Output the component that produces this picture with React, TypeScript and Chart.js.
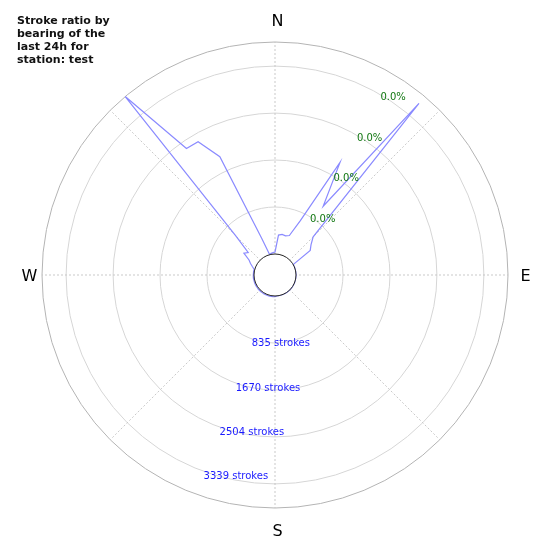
import { useRef, useEffect } from "react";
import { Chart, registerables } from "chart.js";

Chart.register(...registerables);

// bearing bins (degrees, clockwise from north)
const bearings = [
  0, 5, 10, 15, 20, 25, 30, 35, 40, 45, 50, 55, 60, 65, 70, 75, 80, 85,
  90, 95, 100, 105, 110, 115, 120, 125, 130, 135, 140, 145, 150, 155, 160, 165, 170, 175,
  180, 185, 190, 195, 200, 205, 210, 215, 220, 225, 230, 235, 240, 245, 250, 255, 260, 265,
  270, 275, 280, 285, 290, 295, 300, 305, 310, 315, 320, 325, 330, 335, 340, 345, 350, 355,
];

// strokes per bearing bin
const strokes = [
  35, 338, 359, 346, 373, 693, 1937, 1119, 3607, 586, 462, 391, 5, 0, 0, 0, 0, 0,
  0, 0, 0, 0, 0, 0, 0, 0, 0, 0, 0, 0, 0, 0, 0, 0, 0, 0,
  12, 15, 14, 16, 15, 13, 16, 15, 14, 15, 16, 14, 15, 15, 14, 13, 15, 14,
  12, 11, 12, 10, 53, 107, 160, 302, 249, 622, 3767, 2370, 2360, 1946, 320, 9, 18, 27,
];

const compass = ["N", "E", "S", "W"];
const compassBearings = [0, 90, 180, 270];

const ringValues = [835, 1670, 2504, 3339];
const ringLabels = ["835 strokes", "1670 strokes", "2504 strokes", "3339 strokes"];
const ringPercent = ["0.0%", "0.0%", "0.0%", "0.0%"];

const titleLines = ["Stroke ratio by", "bearing of the", "last 24h for", "station: test"];

const rMax = 3767;
const rMin = -373; // leaves the empty hole in the middle

export default function App() {
  const canvasRef = useRef<HTMLCanvasElement | null>(null);

  useEffect(() => {
    if (canvasRef.current == null) return;

    const decorations = {
      id: "decorations",
      afterDatasetsDraw(chart: any) {
        const ctx = chart.ctx;
        const scale = chart.scales.r;
        const cx = scale.xCenter;
        const cy = scale.yCenter;
        const step = 360 / bearings.length;
        ctx.save();

        // hole
        ctx.beginPath();
        ctx.arc(cx, cy, scale.getDistanceFromCenterForValue(0), 0, Math.PI * 2);
        ctx.fillStyle = "#ffffff";
        ctx.fill();
        ctx.lineWidth = 1;
        ctx.strokeStyle = "#222";
        ctx.stroke();

        // ring labels
        ctx.font = '10px "DejaVu Sans"';
        ctx.textAlign = "left";
        ctx.textBaseline = "top";
        ringValues.forEach((v, i) => {
          const d = scale.getDistanceFromCenterForValue(v);
          const p = scale.getPointPosition(200 / step, d);
          ctx.fillStyle = "#1a1aff";
          ctx.fillText(ringLabels[i], p.x, p.y);
          const q = scale.getPointPosition(30 / step, d + 2);
          ctx.fillStyle = "#117711";
          ctx.fillText(ringPercent[i], q.x, q.y);
        });

        // compass letters
        ctx.font = '16px "DejaVu Sans"';
        ctx.fillStyle = "#000";
        ctx.textAlign = "center";
        ctx.textBaseline = "middle";
        compass.forEach((c, i) => {
          const b = compassBearings[i];
          const extra = b % 180 === 0 ? 22 : 15;
          const p = scale.getPointPosition(b / step, scale.drawingArea + extra);
          ctx.fillText(c, p.x + 2.5, p.y + 1.5);
        });

        // title
        ctx.font = 'bold 11px "DejaVu Sans"';
        ctx.fillStyle = "#111";
        ctx.textAlign = "left";
        ctx.textBaseline = "middle";
        titleLines.forEach((t, i) => ctx.fillText(t, 17, 21.5 + i * 13));

        ctx.restore();
      },
    };

    const chartInstance = new Chart(canvasRef.current, {
      type: "radar",
      data: {
        labels: bearings.map((b) => String(b)),
        datasets: [
          {
            label: "strokes",
            data: strokes,
            borderColor: "#8a8aff",
            borderWidth: 1.2,
            pointRadius: 0,
            fill: false,
            tension: 0,
          },
        ],
      },
      options: {
        animation: false,
        responsive: true,
        maintainAspectRatio: false,
        layout: { padding: 42 },
        plugins: {
          legend: { display: false },
          tooltip: { enabled: false },
        },
        scales: {
          r: {
            min: rMin,
            max: rMax,
            afterBuildTicks: (scale: any) => {
              scale.ticks = [0, ...ringValues, rMax].map((v) => ({ value: v }));
            },
            ticks: { display: false },
            pointLabels: { display: false },
            grid: {
              circular: true,
              lineWidth: 1,
              color: (c: any) =>
                c.tick && c.tick.value === 0
                  ? "rgba(0,0,0,0)"
                  : c.tick && c.tick.value === rMax
                  ? "#b4b4b4"
                  : "#d6d6d6",
            },
            angleLines: {
              color: "#c4c4c4",
              lineWidth: (c: any) => (c.index % 9 === 0 ? 0.9 : 0),
              borderDash: [2, 2],
            },
          },
        },
      },
      plugins: [decorations],
    });

    return () => {
      chartInstance.destroy();
    };
  }, []);

  return (
    <div
      style={{
        position: "absolute",
        left: 0,
        top: 0,
        width: 550,
        height: 550,
        background: "#fff",
      }}
    >
      <canvas ref={canvasRef}></canvas>
    </div>
  );
}
